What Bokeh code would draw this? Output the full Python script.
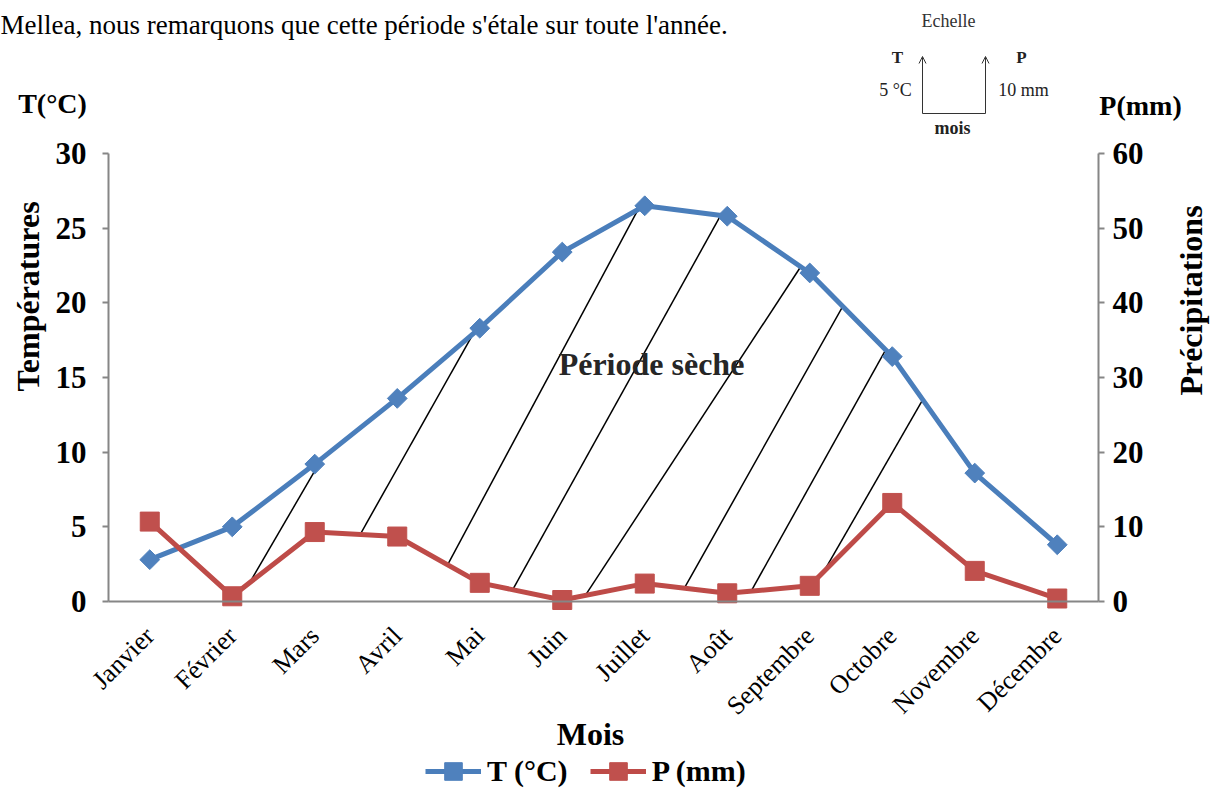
import math
import numpy as np
from bokeh.plotting import figure
from bokeh.models import (Range1d, LinearAxis, FixedTicker, Label, Arrow, OpenHead,
                          Legend, LegendItem)
from bokeh.embed import file_html
from bokeh.resources import INLINE

# ---------------- data ----------------
months = ["Janvier", "Février", "Mars", "Avril", "Mai", "Juin", "Juillet", "Août",
          "Septembre", "Octobre", "Novembre", "Décembre"]
temperature = [2.8, 5.0, 9.2, 13.6, 18.3, 23.4, 26.5, 25.8, 22.0, 16.4, 8.6, 3.8]
precipitation = [10.7, 0.7, 9.3, 8.7, 2.5, 0.2, 2.4, 1.1, 2.1, 13.2, 4.1, 0.4]
t_ticks = [0, 5, 10, 15, 20, 25, 30]
p_ticks = [0, 10, 20, 30, 40, 50, 60]
# hatching of the dry period: start (on P curve) and end (on T curve), in month positions
hatch_start = [1.21, 2.55, 3.61, 4.40, 5.28, 6.48, 7.29, 8.17]
hatch_end = [2.09, 3.92, 5.92, 6.92, 7.89, 8.40, 8.92, 9.37]

SERIF = "Liberation Serif"
W, H = 1211, 788
# plot area (pixels on the canvas)
PL, PR, PT, PB = 108, 1098, 153, 601
XPX = (PR - PL) / 12.0          # pixels per month
YPX = (PB - PT) / 30.0          # pixels per degree


def px2x(fx):
    return (fx - PL) / XPX - 0.5


def px2y(fy):
    return (PB - fy) / YPX


p = figure(width=W, height=H, output_backend="svg", toolbar_location=None,
           x_range=Range1d(px2x(0), px2x(W)), y_range=Range1d(px2y(H), px2y(0)),
           min_border_left=0, min_border_right=0, min_border_top=0, min_border_bottom=0)
p.extra_y_ranges = {"P": Range1d(2 * px2y(H), 2 * px2y(0))}
p.grid.visible = False
p.outline_line_color = None
p.background_fill_color = "white"
p.border_fill_color = "white"

AX = "#868686"
common = dict(axis_line_color=AX, axis_line_width=2, major_tick_line_color=AX,
              major_tick_line_width=2, major_tick_out=6, major_tick_in=0,
              minor_tick_out=0, minor_tick_in=0, major_label_text_font=SERIF,
              major_label_text_color="black")

for ax in p.yaxis:
    ax.fixed_location = -0.5
    ax.bounds = (0, 30)
    ax.ticker = FixedTicker(ticks=t_ticks)
    for k, v in common.items():
        setattr(ax, k, v)
    ax.major_label_text_font_style = "bold"
    ax.major_label_text_font_size = "31px"
    ax.major_label_standoff = 16

right = LinearAxis(y_range_name="P", ticker=FixedTicker(ticks=p_ticks),
                   fixed_location=11.5, bounds=(0, 60),
                   major_label_text_font_style="bold", major_label_text_font_size="31px",
                   major_label_standoff=8, **common)
p.add_layout(right, "right")

for ax in p.xaxis:
    ax.fixed_location = 0
    ax.bounds = (-0.5, 11.5)
    ax.ticker = FixedTicker(ticks=list(range(12)))
    ax.major_label_overrides = {i: m for i, m in enumerate(months)}
    ax.major_label_orientation = math.pi / 4
    for k, v in common.items():
        setattr(ax, k, v)
    ax.major_tick_out = 0
    ax.major_label_text_font_size = "26px"
    ax.major_label_standoff = 30

idx = np.arange(len(months))

# hatch lines (dry period)
hs = np.array(hatch_start)
he = np.array(hatch_end)
y0 = np.interp(hs, idx, np.array(precipitation)) / 2.0
y1 = np.interp(he, idx, np.array(temperature))
p.segment(x0=hs, y0=y0, x1=he, y1=y1, line_color="black", line_width=1.5)

# series
t_line = p.line(idx, temperature, line_color="#4A7EBB", line_width=5)
t_mark = p.scatter(idx, temperature, marker="square", angle=math.pi / 4, size=14,
                   fill_color="#4F81BD", line_color="#4F81BD")
p_line = p.line(idx, precipitation, line_color="#BE4B48", line_width=5, y_range_name="P")
p_mark = p.scatter(idx, precipitation, marker="square", size=19, y_range_name="P",
                   fill_color="#C0504D", line_color="#C0504D")

legend = Legend(items=[LegendItem(label="T (°C)", renderers=[t_line, t_mark]),
                       LegendItem(label="P (mm)", renderers=[p_line, p_mark])],
                location=(425, -5), orientation="horizontal",
                border_line_alpha=0, background_fill_alpha=0, padding=0, margin=0,
                spacing=22, glyph_width=56, glyph_height=44, label_standoff=6,
                label_text_font=SERIF, label_text_font_style="bold",
                label_text_font_size="30px", label_text_color="black")
p.add_layout(legend)


def lab(text, fx, fy, size, bold=False, align="center", baseline="middle", angle=0,
        color="black"):
    p.add_layout(Label(x=px2x(fx), y=px2y(fy), text=text, text_font=SERIF,
                       text_font_size=size, text_font_style="bold" if bold else "normal",
                       text_align=align, text_baseline=baseline, angle=angle,
                       text_color=color))


lab("Période sèche", 651, 363, "32px", bold=True, color="#262626")
lab("Mois", 590, 733, "32px", bold=True)
lab("T(°C)", 52, 103, "28px", bold=True)
lab("P(mm)", 1140, 105, "28px", bold=True)
lab("Températures", 27, 296, "32px", bold=True, angle=math.pi / 2)
lab("Précipitations", 1190, 300, "32px", bold=True, angle=math.pi / 2)
lab("Mellea, nous remarquons que cette période s'étale sur toute l'année.", 0, 24,
    "27px", align="left", baseline="alphabetic")

# scale inset
lab("Echelle", 948, 20, "18px", color="#333333")
lab("T", 897, 57, "17px", bold=True, color="#222222")
lab("P", 1021, 57, "17px", bold=True, color="#222222")
lab("5 °C", 895, 89, "18px", color="#222222")
lab("10 mm", 1023, 89, "18px", color="#222222")
lab("mois", 952, 127, "18px", bold=True, color="#222222")
for fx in (922, 985):
    p.add_layout(Arrow(end=OpenHead(size=7, line_width=1, line_color="#333333"),
                       x_start=px2x(fx), y_start=px2y(113), x_end=px2x(fx), y_end=px2y(56),
                       line_color="#333333", line_width=1))
p.add_layout(Arrow(end=None, x_start=px2x(922), y_start=px2y(113), x_end=px2x(985),
                   y_end=px2y(113), line_color="#333333", line_width=1))

open("out.html", "w").write(file_html(p, INLINE))
